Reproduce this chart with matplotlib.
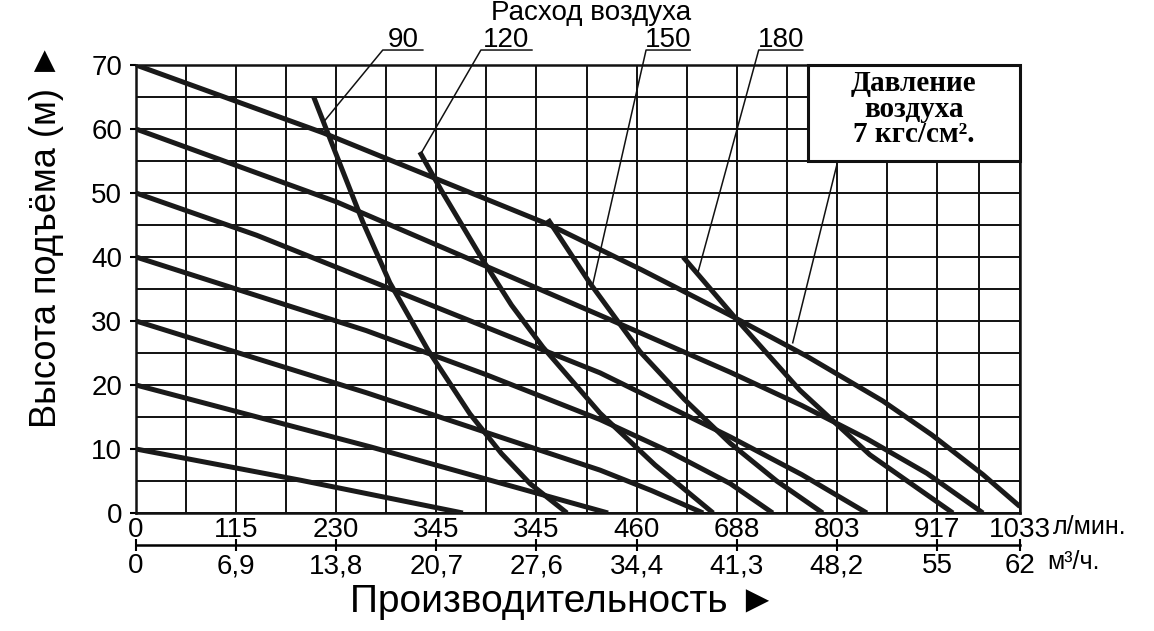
import numpy as np
import matplotlib.pyplot as plt
from matplotlib.patches import Rectangle

plt.rcParams['font.family'] = ['Liberation Sans', 'DejaVu Sans']

# x positions in grid cells (the last two cells of the original are narrower)
grid_u = [0, 1, 2, 3, 4, 5, 6, 7, 8, 9, 10, 11, 12, 13, 14, 15, 16, 16.84, 17.66]
tick_u = [0, 2, 4, 6, 8, 10, 12, 14, 16, 17.66]
lpm_labels = ["0", "115", "230", "345", "345", "460", "688", "803", "917", "1033"]
m3h_labels = ["0", "6,9", "13,8", "20,7", "27,6", "34,4", "41,3", "48,2", "55", "62"]

# head lines (start height at zero flow)
h70_u = [0, 3.74, 8.27, 10.1, 11.87, 13.4, 14.92, 15.9, 16.92, 17.66]
h70_v = [70, 59.4, 45, 38, 30.9, 24.5, 17.5, 12.2, 6.0, 1.0]
h60_u = [0, 4.01, 9.27, 11.87, 13.3, 14.6, 15.8, 16.92]
h60_v = [60, 48.6, 30.9, 22.0, 16.8, 11.6, 6.2, 0]
h50_u = [0, 2.41, 9.27, 11.87, 13.3, 14.6]
h50_v = [50, 43.4, 21.9, 11.9, 6.0, 0]
h40_u = [0, 4.6, 7.0, 9.27, 10.6, 11.87, 12.72]
h40_v = [40, 28.5, 21.6, 14.6, 9.8, 4.6, 0]
h30_u = [0, 4.6, 9.27, 10.3, 11.33]
h30_v = [30, 18.8, 6.7, 3.5, 0]
h20_u = [0, 4.7, 9.43]
h20_v = [20, 10.3, 0]
h10_u = [0, 3.3, 6.53]
h10_v = [10, 5.1, 0]

# air consumption curves
a90_u = [3.55, 3.95, 4.53, 5.07, 5.83, 6.67, 7.3, 7.87, 8.61]
a90_v = [65, 57, 45.5, 36, 25.5, 15.5, 9.3, 4.6, 0]
a120_u = [5.67, 6.1, 6.61, 6.93, 7.5, 8.13, 9.27, 10.37, 11.53]
a120_v = [56.4, 50.4, 43.7, 39.5, 32.5, 25.9, 15.6, 7.5, 0]
a150_u = [8.23, 9.07, 10.07, 10.95, 11.87, 12.8, 13.72]
a150_v = [45.9, 35.9, 25.2, 17.8, 10.9, 5.0, 0]
a180_u = [10.93, 11.97, 13.26, 14.66, 16.32]
a180_v = [40, 30.5, 19.2, 9.1, 0]

air_labels = ["90", "120", "150", "180"]
ul_u0 = [4.93, 6.89, 10.19, 12.44]
ul_u1 = [5.73, 7.91, 11.07, 13.32]
ptr_u = [3.78, 5.71, 9.13, 11.23]
ptr_v = [61.4, 56.4, 35.9, 37.7]
ul_v = 72.34

fig = plt.figure(figsize=(11.54, 6.31), dpi=100)
ax = fig.add_axes([136/1154, 118/631, 884/1154, 448/631])
ax.set_xlim(0, 17.66)
ax.set_ylim(0, 70)

ax.set_xticks(grid_u, minor=True)
ax.set_xticks(tick_u)
ax.set_xticklabels(lpm_labels, fontsize=20)
ax.set_yticks(np.arange(0, 71, 5), minor=True)
ax.set_yticks(np.arange(0, 71, 10))
ax.set_yticklabels([str(v) for v in range(0, 71, 10)], fontsize=20)
ax.tick_params(axis='x', which='both', length=0, pad=3)
ax.tick_params(axis='y', which='major', length=4, width=1.5, pad=6)
ax.tick_params(axis='y', which='minor', length=0)
ax.grid(True, which='both', color='#111111', lw=1.4)
ax.set_axisbelow(True)
for s in ax.spines.values():
    s.set_linewidth(1.8)
    s.set_color('#111111')

heads = [(h70_u, h70_v), (h60_u, h60_v), (h50_u, h50_v), (h40_u, h40_v),
         (h30_u, h30_v), (h20_u, h20_v), (h10_u, h10_v)]
airs = [(a90_u, a90_v), (a120_u, a120_v), (a150_u, a150_v), (a180_u, a180_v)]
for u, v in heads + airs:
    ax.plot(u, v, color='#1a1a1a', lw=3.6, solid_capstyle='butt',
            solid_joinstyle='round', zorder=3)

# labels of air consumption with underline and pointer
for lab, u0, u1, pu, pv in zip(air_labels, ul_u0, ul_u1, ptr_u, ptr_v):
    ax.plot([u1, u0, pu], [ul_v, ul_v, pv], color='#111111', lw=1.1,
            clip_on=False, zorder=4)
    ax.text((u0 + u1) / 2, ul_v + 0.5, lab, fontsize=20, ha='center',
            va='baseline', clip_on=False)
ax.text(9.1, 78.1, "Расход воздуха", fontsize=20, ha='center', va='center',
        clip_on=False)

# pressure box
ax.add_patch(Rectangle((13.42, 55), 17.66 - 13.42, 15, facecolor='white',
                       edgecolor='#111111', lw=2.2, zorder=5, clip_on=False))
ax.plot([14.02, 13.12], [55, 26.6], color='#111111', lw=1.1, zorder=4)
ax.text(15.54, 63.1, "Давление\nвоздуха\n7 кгс/см².", fontsize=21,
        family=['Liberation Serif', 'DejaVu Serif'], fontweight='bold',
        ha='center', va='center', linespacing=0.92, zorder=6)

# second scale in m3/h
sec = ax.secondary_xaxis(-0.0714)
sec.set_xticks(tick_u)
sec.set_xticklabels(m3h_labels, fontsize=20)
sec.tick_params(direction='inout', length=8, width=1.5, pad=2)
sec.spines['bottom'].set_linewidth(1.8)

fig.text(1053/1154, 1 - 527/631, "л/мин.", fontsize=18, va='center')
fig.text(1047/1154, 1 - 562/631, "м³/ч.", fontsize=18, va='center')
fig.text(563/1154, 1 - 602/631, "Производительность ►", fontsize=28,
         ha='center', va='center')
fig.text(47/1154, 1 - 235/631, "Высота подъёма (м) ►", fontsize=26,
         rotation=90, ha='center', va='center')

fig.savefig('out.png', dpi=100)
